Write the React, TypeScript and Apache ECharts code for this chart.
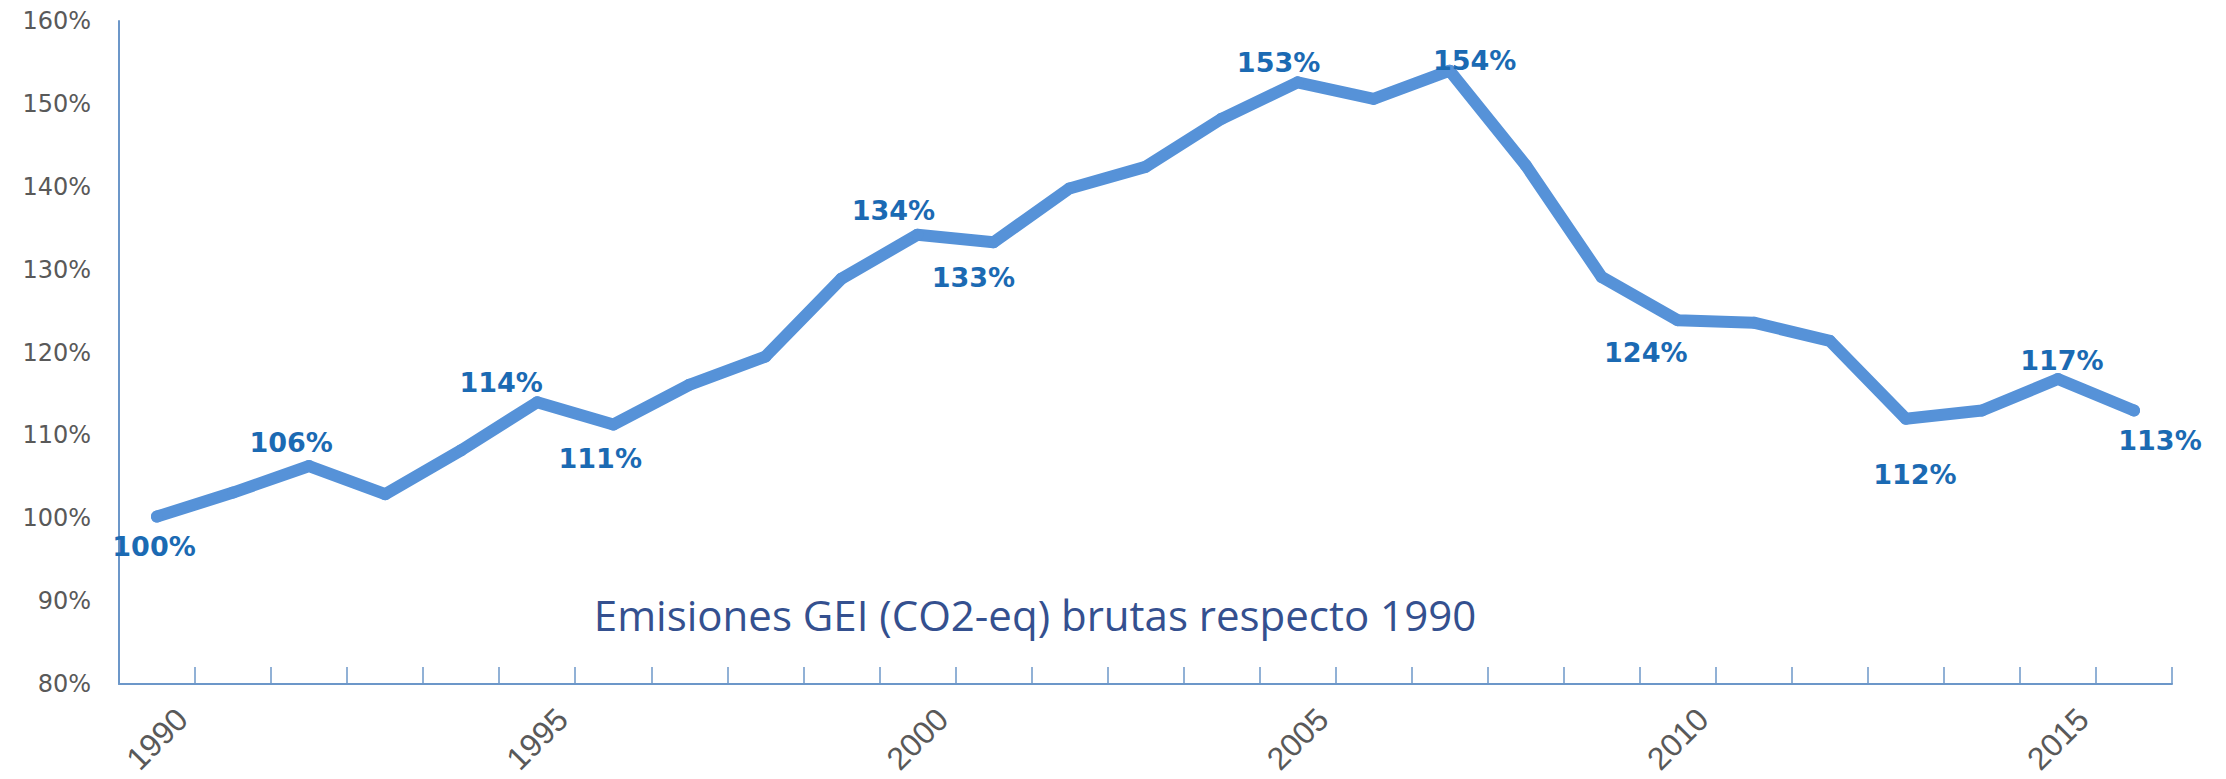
import React, { useEffect, useRef } from "react";
import * as echarts from "echarts";

const years = [
  "1990", "1991", "1992", "1993", "1994", "1995", "1996", "1997", "1998",
  "1999", "2000", "2001", "2002", "2003", "2004", "2005", "2006", "2007",
  "2008", "2009", "2010", "2011", "2012", "2013", "2014", "2015", "2016",
];

const emissions = [
  100.2, 103.1, 106.3, 102.9, 108.2, 114.0, 111.3, 116.1, 119.5,
  128.9, 134.2, 133.3, 139.8, 142.4, 148.2, 152.6, 150.6, 154.0,
  142.6, 129.1, 123.9, 123.6, 121.4, 112.0, 113.0, 116.8, 113.0,
];

const yTicks = [80, 90, 100, 110, 120, 130, 140, 150, 160];

const titleText = "Emisiones GEI (CO2-eq) brutas respecto 1990";

// indices of points that carry a data label
const labelledPoints = [0, 2, 5, 6, 10, 11, 15, 17, 20, 23, 25, 26];

// label placement (layout only), relative to the point centre
const labelOffsets: Record<number, [number, number]> = {
  0: [-3, 30],
  2: [-18, -24],
  5: [-36, -20],
  6: [-13, 34],
  10: [-24, -24],
  11: [-20, 35],
  15: [-19, -20],
  17: [25, -10],
  20: [-32, 32],
  23: [9, 56],
  25: [4, -19],
  26: [26, 30],
};

export default function App() {
  const ref = useRef<HTMLDivElement>(null);

  useEffect(() => {
    if (!ref.current) return;
    const chart = echarts.init(ref.current, undefined, { renderer: "svg" });

    const data = emissions.map((v, i) => {
      if (labelledPoints.indexOf(i) >= 0) {
        return {
          value: v,
          label: {
            show: true,
            position: "inside",
            offset: labelOffsets[i],
          },
        };
      }
      return { value: v };
    });

    chart.setOption({
      animation: false,
      backgroundColor: "#ffffff",
      grid: { left: 119, right: 54, top: 21, bottom: 95, containLabel: false },
      xAxis: {
        type: "category",
        data: years,
        boundaryGap: true,
        axisLine: { show: true, lineStyle: { color: "#6C97C9", width: 2 } },
        axisTick: {
          show: true,
          inside: true,
          length: 17,
          interval: 0,
          lineStyle: { color: "#6C97C9", width: 1.5 },
        },
        axisLabel: {
          interval: 4,
          rotate: 45,
          margin: 55,
          align: "center",
          verticalAlign: "middle",
          color: "#595959",
          fontFamily: "Liberation Sans",
          fontSize: 32,
        },
        splitLine: { show: false },
      },
      yAxis: {
        type: "value",
        min: yTicks[0],
        max: yTicks[yTicks.length - 1],
        interval: 10,
        axisLine: { show: true, lineStyle: { color: "#6C97C9", width: 2 } },
        axisTick: { show: false },
        splitLine: { show: false },
        axisLabel: {
          formatter: "{value}%",
          margin: 28,
          color: "#595959",
          fontFamily: "DejaVu Sans",
          fontSize: 24,
        },
      },
      graphic: [
        {
          type: "text",
          x: 1035,
          y: 614,
          style: {
            text: titleText,
            fill: "#34508F",
            font: "42px 'Open Sans'",
            textAlign: "center",
            textVerticalAlign: "middle",
          },
        },
      ],
      series: [
        {
          type: "line",
          data,
          symbol: "circle",
          symbolSize: 12,
          showSymbol: true,
          itemStyle: { color: "#5692D8" },
          lineStyle: { color: "#5692D8", width: 12, join: "round", cap: "round" },
          label: {
            show: false,
            formatter: (p: any) => Math.round(p.value) + "%",
            color: "#1B6AB3",
            fontFamily: "DejaVu Sans",
            fontWeight: "bold",
            fontSize: 27,
            align: "center",
            verticalAlign: "middle",
          },
          emphasis: { disabled: true },
          z: 3,
        },
      ],
    });

    return () => chart.dispose();
  }, []);

  return (
    <div
      ref={ref}
      style={{ position: "fixed", left: 0, top: 0, width: "2226px", height: "779px" }}
    />
  );
}
